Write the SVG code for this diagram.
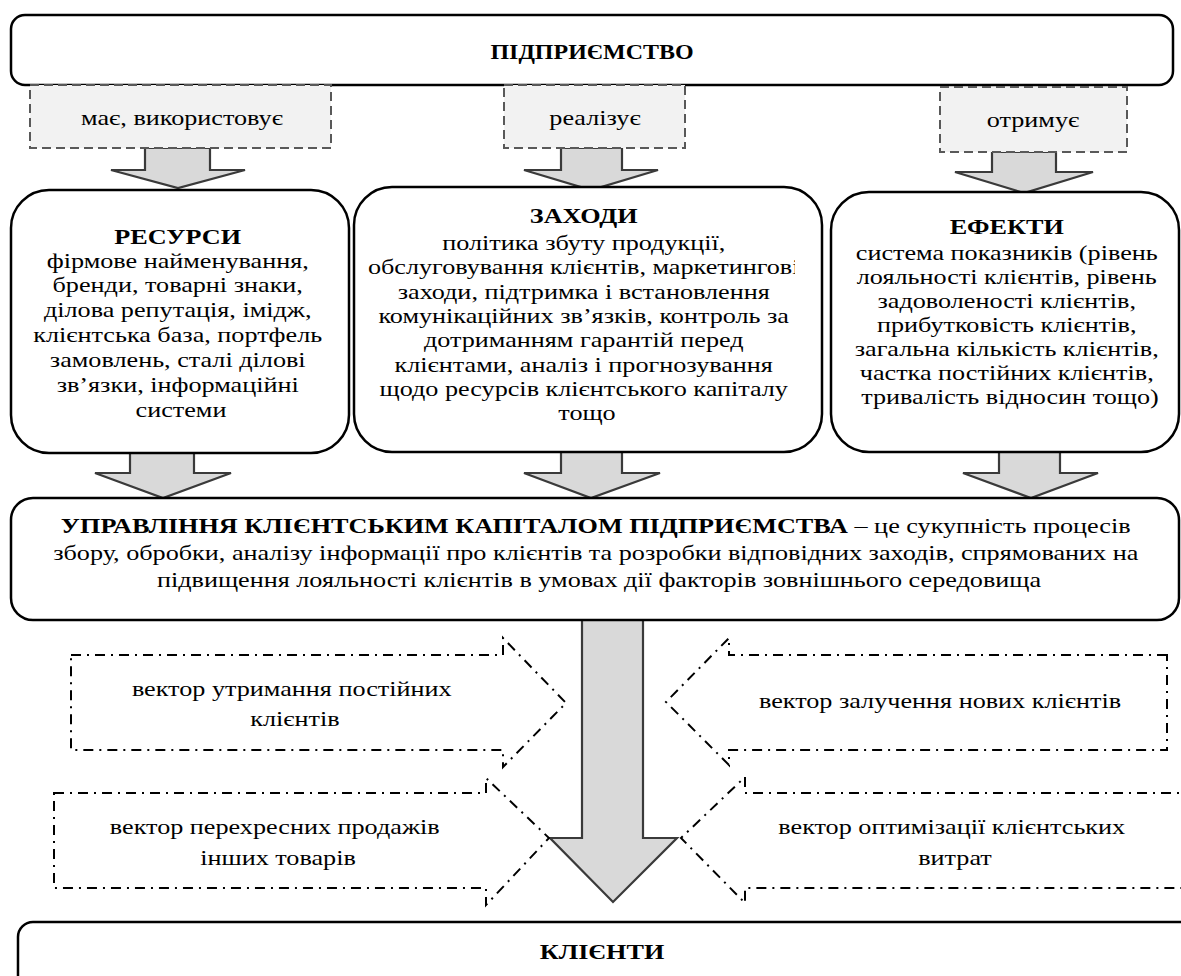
<svg xmlns="http://www.w3.org/2000/svg" width="1181" height="976" viewBox="0 0 1181 976">
<style>
.box{fill:#fff;stroke:#000;stroke-width:2.5}
.lbl{fill:#f2f2f2;stroke:#595959;stroke-width:2;stroke-dasharray:9 5}
.barrow{fill:#d9d9d9;stroke:#3a3a3a;stroke-width:2.2;stroke-linejoin:miter}
.vec{fill:none;stroke:#000;stroke-width:2;stroke-dasharray:10 6 2 6}
text{font-family:'Liberation Serif','DejaVu Serif',serif;font-size:22px;fill:#000;text-anchor:middle}
.b{font-weight:bold}
</style>
<defs>
<clipPath id="clipZ"><rect x="354" y="187" width="441" height="265"/></clipPath>
</defs>
<rect width="1181" height="976" fill="#fff"/>

<g id="connectors">
<polygon class="barrow" points="145,148 210,148 210,170 245,170 178,188 111,170 145,170"/>
<polygon class="barrow" points="561,148 622,148 622,170 658,170 591,190 524,170 561,170"/>
<polygon class="barrow" points="992,152 1056,152 1056,172 1093,172 1024,193 955,172 992,172"/>
<polygon class="barrow" points="130,453 194,453 194,473 231,473 163,498 95,473 130,473"/>
<polygon class="barrow" points="561,452 622,452 622,473 660,473 591,498 524,473 561,473"/>
<polygon class="barrow" points="999,452 1060,452 1060,473 1098,473 1031,498 963,473 999,473"/>
<polygon class="barrow" points="582,620 643,620 643,838 677,838 613,902 550,838 582,838"/>
</g>

<g id="node-pidpryiemstvo">
<rect class="box" x="11" y="15" width="1162" height="70" rx="14"/>
<text class="b" transform="translate(592,0) scale(1.09,1)" font-size="20"><tspan x="0" y="59">ПІДПРИЄМСТВО</tspan></text>
</g>

<g id="label-mae">
<rect class="lbl" x="30" y="85" width="301" height="63"/>
<text transform="translate(182,0) scale(1.19,1)"><tspan x="0" y="125">має, використовує</tspan></text>
</g>
<g id="label-realizuie">
<rect class="lbl" x="504" y="85" width="181" height="63"/>
<text transform="translate(595,0) scale(1.19,1)"><tspan x="0" y="125">реалізує</tspan></text>
</g>
<g id="label-otrymuie">
<rect class="lbl" x="940" y="87" width="187" height="65"/>
<text transform="translate(1033,0) scale(1.19,1)"><tspan x="0" y="127">отримує</tspan></text>
</g>

<g id="node-resursy">
<rect class="box" x="11" y="190" width="338" height="263" rx="38"/>
<text transform="translate(181,0) scale(1.19,1)">
<tspan class="b" x="0" y="244">РЕСУРСИ</tspan>
<tspan x="0" y="268">фірмове найменування,</tspan>
<tspan x="0" y="292">бренди, товарні знаки,</tspan>
<tspan x="0" y="317">ділова репутація, імідж,</tspan>
<tspan x="0" y="342">клієнтська база, портфель</tspan>
<tspan x="0" y="367">замовлень, сталі ділові</tspan>
<tspan x="0" y="392">зв’язки, інформаційні</tspan>
<tspan x="0" y="417">системи</tspan>
</text>
</g>

<g id="node-zakhody">
<rect class="box" x="354" y="187" width="468" height="265" rx="38"/>
<g clip-path="url(#clipZ)">
<text transform="translate(587,0) scale(1.19,1)">
<tspan class="b" x="0" y="223">ЗАХОДИ</tspan>
<tspan x="0" y="250">політика збуту продукції,</tspan>
<tspan x="0" y="274">обслуговування клієнтів, маркетингові</tspan>
<tspan x="0" y="299">заходи, підтримка і встановлення</tspan>
<tspan x="0" y="323">комунікаційних зв’язків, контроль за</tspan>
<tspan x="0" y="347">дотриманням гарантій перед</tspan>
<tspan x="0" y="372">клієнтами, аналіз і прогнозування</tspan>
<tspan x="0" y="396">щодо ресурсів клієнтського капіталу</tspan>
<tspan x="0" y="420">тощо</tspan>
</text>
</g>
</g>

<g id="node-efekty">
<rect class="box" x="831" y="192" width="348" height="260" rx="38"/>
<text transform="translate(1010,0) scale(1.19,1)">
<tspan class="b" x="0" y="234">ЕФЕКТИ</tspan>
<tspan x="0" y="260">система показників (рівень</tspan>
<tspan x="0" y="284">лояльності клієнтів, рівень</tspan>
<tspan x="0" y="308">задоволеності клієнтів,</tspan>
<tspan x="0" y="332">прибутковість клієнтів,</tspan>
<tspan x="0" y="356">загальна кількість клієнтів,</tspan>
<tspan x="0" y="380">частка постійних клієнтів,</tspan>
<tspan x="0" y="404">тривалість відносин тощо)</tspan>
</text>
</g>

<g id="node-upravlinnia">
<rect class="box" x="11" y="498" width="1168" height="122" rx="22"/>
<text transform="translate(599,0) scale(1.19,1)">
<tspan x="0" y="533"><tspan class="b">УПРАВЛІННЯ КЛІЄНТСЬКИМ КАПІТАЛОМ ПІДПРИЄМСТВА</tspan> – це сукупність процесів</tspan>
<tspan x="0" y="560">збору, обробки, аналізу інформації про клієнтів та розробки відповідних заходів, спрямованих на</tspan>
<tspan x="0" y="587">підвищення лояльності клієнтів в умовах дії факторів зовнішнього середовища</tspan>
</text>
</g>

<g id="vector-utrymannia">
<path class="vec" d="M71,655 H503 V638 L566,703 L503,767 V750 H71 Z"/>
<text transform="translate(295,0) scale(1.19,1)">
<tspan x="0" y="696">вектор утримання постійних</tspan>
<tspan x="0" y="726">клієнтів</tspan>
</text>
</g>
<g id="vector-perekhresnykh">
<path class="vec" d="M54,793 H486 V778 L549,838 L486,905 V888 H54 Z"/>
<text transform="translate(278,0) scale(1.19,1)">
<tspan x="0" y="834">вектор перехресних продажів</tspan>
<tspan x="0" y="865">інших товарів</tspan>
</text>
</g>
<g id="vector-zaluchennia">
<path class="vec" d="M1167,655 H729 V638 L666,702 L729,765 V750 H1167 Z"/>
<text transform="translate(940,0) scale(1.19,1)">
<tspan x="0" y="708">вектор залучення нових клієнтів</tspan>
</text>
</g>
<g id="vector-optymizatsii">
<path class="vec" d="M1195,793 H745 V777 L681,838 L745,903 V888 H1195 Z"/>
<text transform="translate(955,0) scale(1.19,1)">
<tspan x="0" y="834">вектор оптимізації клієнтських</tspan>
<tspan x="0" y="865">витрат</tspan>
</text>
</g>

<g id="node-kliienty">
<rect class="box" x="18" y="922" width="1180" height="100" rx="15"/>
<text class="b" transform="translate(602,0) scale(1.19,1)"><tspan x="0" y="959">КЛІЄНТИ</tspan></text>
</g>
</svg>
